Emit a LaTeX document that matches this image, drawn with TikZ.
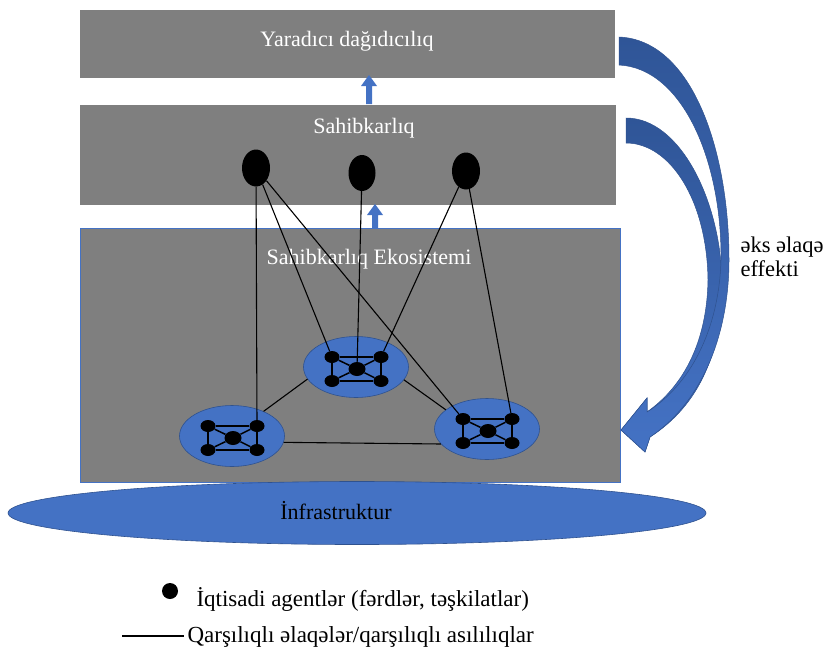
\documentclass[tikz,border=0pt]{standalone}
\usepackage{fontspec}
\setmainfont{Liberation Serif}
\usetikzlibrary{shapes.geometric,calc}
\definecolor{boxgray}{RGB}{127,127,127}
\definecolor{ablue}{RGB}{68,114,196}
\definecolor{dblue}{RGB}{47,85,151}
\definecolor{eline}{RGB}{47,82,143}

\begin{document}
\begin{tikzpicture}[x=1pt,y=-1pt,
  panel/.style={fill=boxgray, draw=none, inner sep=0pt, anchor=north west},
  title/.style={text=white, font=\fontsize{22}{26}\selectfont},
  agent/.style={ellipse, fill=black, inner sep=0pt, minimum width=28pt, minimum height=37pt},
  dot/.style={ellipse, fill=black, inner sep=0pt, minimum width=15pt, minimum height=12pt},
  hub/.style={dot, minimum width=17pt, minimum height=14pt},
  cluster/.style={ellipse, fill=ablue, draw=eline, line width=0.6pt, inner sep=0pt,
                  minimum width=105pt, minimum height=61pt},
  link/.style={draw=black, line width=1.1pt},
  mesh/.style={draw=black, line width=1.5pt},
  feedback/.style={top color=dblue, bottom color=ablue, draw=eline, line width=0.5pt},
  label/.style={font=\fontsize{22.5}{24}\selectfont, text=black},
  legendtext/.style={font=\fontsize{23}{26}\selectfont, text=black, anchor=west}
]
\useasboundingbox (0,0) rectangle (829,654);

% stacked layers
\node[panel, minimum width=535pt, minimum height=68pt] (creative) at (80,10) {};
\node[panel, minimum width=536pt, minimum height=100pt] (entre) at (80,105) {};
\node[panel, draw=ablue, line width=0.8pt, minimum width=540pt, minimum height=254pt] (eco) at (80,228) {};

\node[title] at (347,41) {Yaradıcı dağıdıcılıq};
\node[title] at (364,128) {Sahibkarlıq};
\node[title] at (369,259) {Sahibkarlıq Ekosistemi};

% upward block arrows between layers
\fill[ablue] (366,104) -- (366,86) -- (361,86) -- (369,75) -- (377,86) -- (372,86) -- (372,104) -- cycle;
\fill[ablue] (372,228) -- (372,215) -- (367,215) -- (375,204) -- (383,215) -- (378,215) -- (378,228) -- cycle;

% entrepreneurs
\node[agent] (g1) at (256,168) {};
\node[agent, minimum width=27pt, minimum height=36pt] (g2) at (362,173) {};
\node[agent] (g3) at (466,171) {};

% clusters of economic agents
\node[cluster] (A) at (232,436) {};
\node[cluster] (B) at (356,367) {};
\node[cluster] (C) at (487,429) {};

\foreach \c in {A,B,C}{
  \node[dot] (\c-tl) at ($(\c)+(-24,-10)$) {};
  \node[dot] (\c-tr) at ($(\c)+(25,-10)$) {};
  \node[dot] (\c-bl) at ($(\c)+(-24,14)$) {};
  \node[dot] (\c-br) at ($(\c)+(25,14)$) {};
  \node[hub] (\c-m) at ($(\c)+(1,2)$) {};
  \draw[mesh] (\c-tl) -- (\c-tr);
  \draw[mesh] (\c-bl) -- (\c-br);
  \draw[mesh] (\c-tl) -- (\c-bl);
  \draw[mesh] (\c-tr) -- (\c-br);
  \draw[mesh] (\c-m) -- (\c-tl);
  \draw[mesh] (\c-m) -- (\c-tr);
  \draw[mesh] (\c-m) -- (\c-bl);
  \draw[mesh] (\c-m) -- (\c-br);
}

% links between clusters
\draw[link] (A.38) -- (B.194);
\draw[link] (B.-15) -- (C.155);
\draw[link] (A.-7) -- (C.-162);

% links from entrepreneurs into the ecosystem
\draw[link] (g1) -- (A-tr);
\draw[link] (g1) -- (B-tl);
\draw[link] (g1) -- (C-tl);
\draw[link] (g2) -- (B-m);
\draw[link] (g3) -- (B-tr);
\draw[link] (g3) -- (C-tr);

% infrastructure base
\node[ellipse, fill=ablue, draw=eline, line width=0.6pt, inner sep=0pt,
      minimum width=698pt, minimum height=63pt] (infra) at (357,513) {};
\node[label, font=\fontsize{22}{24}\selectfont] at (336,511) {İnfrastruktur};

% feedback arrows
\path[feedback] (626,118) .. controls (680,118) and (720,200) .. (722,280)
  .. controls (723,350) and (700,405) .. (650,437) -- (645,452) -- (621,430)
  -- (647,398) -- (647,412) .. controls (685,385) and (707,340) .. (708,280)
  .. controls (707,200) and (670,143) .. (626,143) -- cycle;
\path[feedback] (619,37) .. controls (692,40) and (729,150) .. (729,260)
  .. controls (729,330) and (705,400) .. (650,437) -- (645,452) -- (621,430)
  -- (647,398) -- (647,412) .. controls (690,385) and (719,330) .. (721,260)
  .. controls (722,160) and (682,68) .. (619,65) -- cycle;

\node[label, anchor=west, align=left] (fb) at (737,257) {əks əlaqə\\effekti};

% legend
\node[ellipse, fill=black, inner sep=0pt, minimum width=16pt, minimum height=16pt] (ldot) at (170,591) {};
\node[legendtext] at (193,599) {İqtisadi agentlər (fərdlər, təşkilatlar)};
\coordinate (l1) at (122,636);
\coordinate (l2) at (184,636);
\draw[line width=2.6pt] (l1) -- (l2);
\node[legendtext] at (184,637) {Qarşılıqlı əlaqələr/qarşılıqlı asılılıqlar};
\end{tikzpicture}
\end{document}
